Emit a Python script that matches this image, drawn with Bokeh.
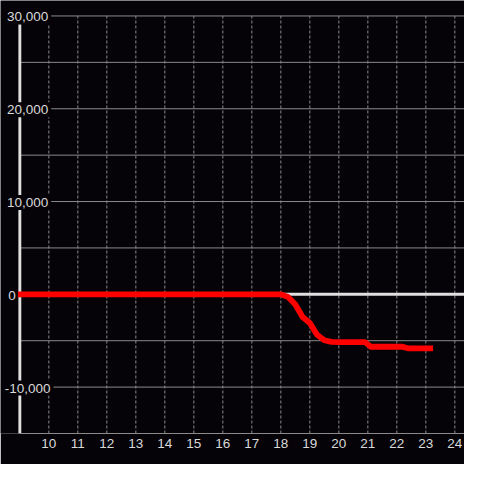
from bokeh.plotting import figure
from bokeh.models import FixedTicker, Range1d
from bokeh.core.properties import value
from bokeh.embed import file_html
from bokeh.resources import INLINE

# ---- data ----
hours = [9.0, 18.0, 18.25, 18.5, 18.75, 19.0, 19.25, 19.5, 19.75, 20.0,
         20.9, 21.1, 22.2, 22.4, 23.15]
balance = [0, 0, -280, -1100, -2450, -3100, -4350, -4950, -5120, -5150,
           -5150, -5650, -5650, -5830, -5830]

x_ticks = list(range(10, 25))
y_grid = [-10000, -5000, 0, 5000, 10000, 15000, 20000, 25000, 30000]
y_label_values = [30000, 20000, 10000, -10000]
y_label_text = ["30,000", "20,000", "10,000", "-10,000"]
zero_label_value = [0]
zero_label_text = ["0"]

# ---- styling ----
S = 464 / 480.0
BG = "#050308"
GRID = "#8a8a8a"
AXIS = "#e0e0e0"
TXT = "#d9d9d9"
FONT = "Liberation Sans"
FS = "%.1fpx" % (14 * S)

X_START, X_END = 10 - 50 / 30.0, 10 + 430 / 30.0
Y_MIN, Y_TOP, Y_MAX = -15000, 30000, 30000 + 16 / 96.0 * 10000
AXIS_X = 9

p = figure(width=464, height=464, output_backend="svg", toolbar_location=None,
           x_range=Range1d(X_START, X_END), y_range=Range1d(Y_MIN, Y_MAX),
           y_axis_location=None,
           min_border_left=0, min_border_right=0, min_border_top=0,
           min_border_bottom=31,
           background_fill_color=BG, border_fill_color=BG)
p.outline_line_color = None
p.grid.visible = False

ax = p.xaxis[0]
ax.ticker = FixedTicker(ticks=x_ticks)
ax.bounds = (AXIS_X, X_END)
ax.axis_line_color = GRID
ax.axis_line_width = 1
ax.major_tick_line_color = None
ax.minor_tick_line_color = None
ax.major_tick_out = 0
ax.major_tick_in = 0
ax.major_label_text_color = TXT
ax.major_label_text_font = FONT
ax.major_label_text_font_size = FS
ax.major_label_standoff = 5

# grid lines
p.segment(x0=AXIS_X, x1=X_END, y0=y_grid, y1=y_grid,
          line_color=GRID, line_width=1)
p.segment(x0=x_ticks, x1=x_ticks, y0=Y_MIN, y1=Y_TOP,
          line_color=GRID, line_width=1, line_dash="3 2")

# zero baseline and y axis line
p.segment(x0=[AXIS_X], x1=[X_END], y0=[0], y1=[0],
          line_color=AXIS, line_width=3 * S)
p.segment(x0=[AXIS_X], x1=[AXIS_X], y0=[Y_MIN], y1=[Y_TOP],
          line_color=AXIS, line_width=3 * S)

# data line
p.line(hours, balance, line_color="#ff0000", line_width=6 * S,
       line_cap="square", line_join="round")

# y labels
p.text(x=AXIS_X, y=y_label_values, text=y_label_text,
       x_offset=8 * S, y_offset=1,
       text_align="center", text_baseline="middle",
       text_font=value(FONT), text_font_size=value(FS), text_color=TXT,
       background_fill_color=BG, padding=3)
p.text(x=AXIS_X, y=zero_label_value, text=zero_label_text,
       x_offset=-8 * S, y_offset=1,
       text_align="center", text_baseline="middle",
       text_font=value(FONT), text_font_size=value(FS), text_color=TXT,
       background_fill_color=BG, padding=2)

open("out.html", "w").write(file_html(p, INLINE))
